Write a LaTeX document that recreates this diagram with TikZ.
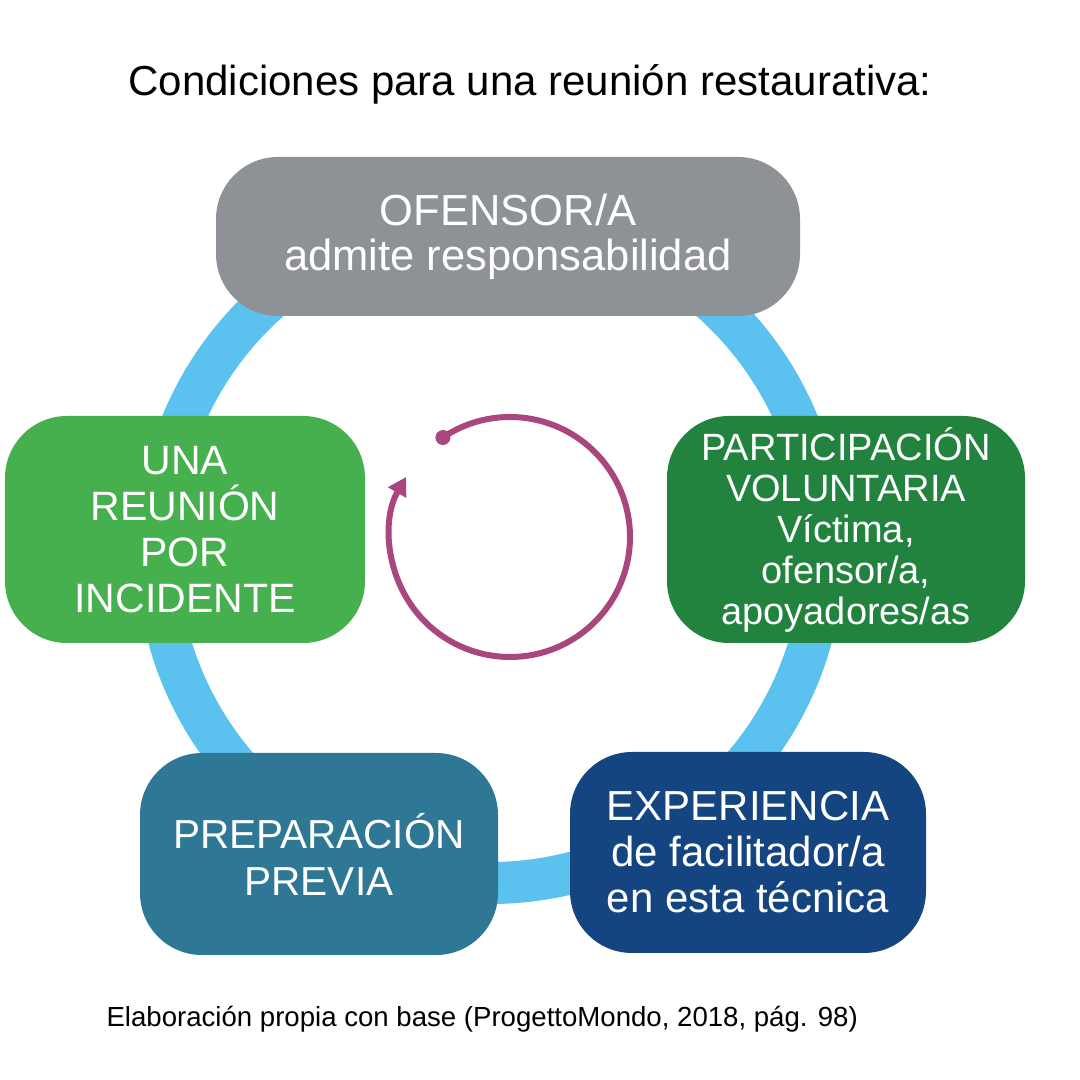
\documentclass[tikz,border=0pt]{standalone}
\usepackage{fontspec}
\setmainfont{Liberation Sans}
\usetikzlibrary{arrows.meta}

\definecolor{ringblue}{RGB}{91,194,240}
\definecolor{offgray}{RGB}{142,146,150}
\definecolor{darkgreen}{RGB}{34,131,63}
\definecolor{lightgreen}{RGB}{70,175,78}
\definecolor{tealblue}{RGB}{46,120,150}
\definecolor{navyblue}{RGB}{21,69,129}
\definecolor{plum}{RGB}{168,70,125}

\begin{document}
\begin{tikzpicture}[x=1pt,y=1pt,line cap=round,line join=round,
    box/.style={rectangle,rounded corners=62pt,inner sep=0pt,text=white,align=center}]
  \useasboundingbox[fill=white] (0,0) rectangle (1080,1080);

  % --- title ---
  \node[anchor=base,font=\fontsize{42}{48}\selectfont] (title) at (530,984)
    {Condiciones para una reunión restaurativa:};

  % --- blue ring behind the boxes ---
  \coordinate (ringc) at (490,530);
  \draw[ringblue,line width=42pt] (ringc) circle (333);

  % --- the five conditions ---
  \node[box,fill=offgray,minimum width=584pt,minimum height=159pt,
        font=\fontsize{43.5}{45}\selectfont] (ofensor) at (508,843.5)
    {OFENSOR/A\\admite responsabilidad};
  \node[box,fill=darkgreen,minimum width=358pt,minimum height=227pt,
        font=\fontsize{38}{41}\selectfont] (participacion) at (846,550.5)
    {PARTICIPACIÓN\\VOLUNTARIA\\Víctima,\\ofensor/a,\\apoyadores/as};
  \node[box,fill=lightgreen,minimum width=360pt,minimum height=227pt,
        font=\fontsize{41}{46}\selectfont] (reunion) at (185,550.5)
    {UNA\\REUNIÓN\\POR\\INCIDENTE};
  \node[box,fill=tealblue,minimum width=358pt,minimum height=202pt,
        font=\fontsize{40.5}{47}\selectfont] (preparacion) at (319,226)
    {PREPARACIÓN\\PREVIA};
  \node[box,fill=navyblue,minimum width=356pt,minimum height=201pt,
        font=\fontsize{42}{46}\selectfont] (experiencia) at (748,227.5)
    {EXPERIENCIA\\de facilitador/a\\en esta técnica};

  % --- cycle arrow in the middle ---
  \coordinate (cyc) at (510,543);
  \draw[plum,line width=6pt,-{Triangle[length=18pt,width=20pt]}]
    ([shift={(124:120)}]cyc) arc[start angle=124,end angle=-210,radius=120];
  \fill[plum] ([shift={(124:120)}]cyc) circle (7.5);

  % --- source ---
  \node[anchor=base west,font=\fontsize{27.6}{30}\selectfont] (source) at (103,53)
    {Elaboración propia con base (ProgettoMondo, 2018, pág. 98)};
\end{tikzpicture}
\end{document}
